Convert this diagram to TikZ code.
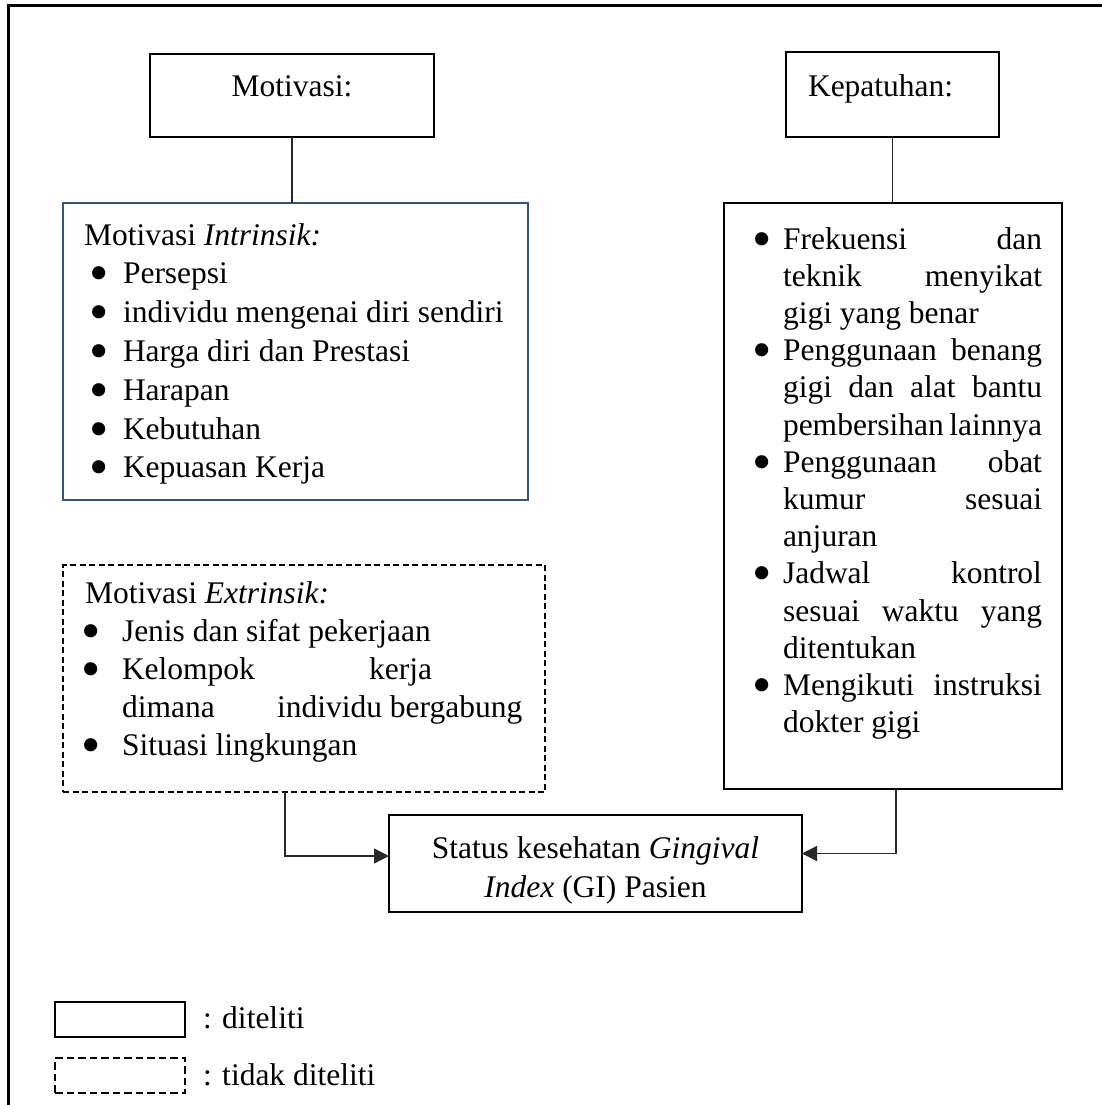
\documentclass[tikz,border=0pt]{standalone}
\usepackage{fontspec}
\setmainfont{Liberation Serif}
\usetikzlibrary{arrows.meta}
\definecolor{boxblue}{RGB}{56,84,116}
\definecolor{connc}{RGB}{40,40,40}
\newcommand{\bdot}{\smash{\raisebox{-8pt}{\scalebox{1.75}{•}}}}
\newcommand{\bl}[2]{\hspace*{#1}\makebox[0pt]{\bdot}\hspace*{#2}}
\newcommand{\jw}[1]{\makebox[259pt][s]{#1}}
\newcommand{\gp}{\ \hfill}
\newcommand{\ws}{\spaceskip=0.25em\relax}
\begin{document}
\begin{tikzpicture}[x=1pt,y=-1pt,
  boxs/.style={draw, line width=2.4pt, inner sep=0pt, outer sep=0pt, anchor=north west},
  txt/.style={inner sep=0pt, outer sep=0pt, font=\fontsize{31.5}{38.8}\selectfont},
  conn/.style={draw=connc, line width=1.3pt},
  arr/.style={conn, -{Triangle[length=15pt,width=15pt]}},
  dashbox/.style={boxs, dash pattern=on 6pt off 3.5pt}]
\useasboundingbox (0,0) rectangle (1101,1105);
% outer frame
\draw[line width=3pt] (8,1112) -- (8,6) -- (1112,6);

% boxes
\node[boxs, minimum width=284pt, minimum height=83pt] (mot) at (150,54) {};
\node[boxs, minimum width=213pt, minimum height=85pt] (kep) at (786,52) {};
\node[boxs, draw=boxblue, minimum width=465pt, minimum height=297pt] (intr) at (63,203) {};
\node[boxs, line width=2.8pt, minimum width=338pt, minimum height=586pt] (list) at (724,203) {};
\node[dashbox, minimum width=482pt, minimum height=227pt] (extr) at (63,565) {};
\node[boxs, minimum width=413pt, minimum height=97pt] (stat) at (389,815) {};
\node[boxs, minimum width=130pt, minimum height=35pt] (legA) at (55,1002) {};
\node[boxs, dash pattern=on 7.5pt off 4pt, minimum width=130pt, minimum height=35pt] (legB) at (55,1058) {};

% texts
\node[txt, anchor=base] (motT) at (292,97) {Motivasi:};
\node[txt, anchor=base west] (kepT) at (808,97) {Kepatuhan:};
\node[txt, anchor=base west, text width=440pt, align=left] (intrT) at (84,245) {\ws
Motivasi \textit{Intrinsik:}\\
\bl{15pt}{24pt}Persepsi\\
\bl{15pt}{24pt}individu mengenai diri sendiri\\
\bl{15pt}{24pt}Harga diri dan Prestasi\\
\bl{15pt}{24pt}Harapan\\
\bl{15pt}{24pt}Kebutuhan\\
\bl{15pt}{24pt}Kepuasan Kerja};
\node[txt, font=\fontsize{31.5}{38}\selectfont, anchor=base west, text width=455pt, align=left] (extrT) at (85,603) {\ws
Motivasi \textit{Extrinsik:}\\
\bl{6pt}{31pt}Jenis dan sifat pekerjaan\\
\bl{6pt}{31pt}\makebox[310pt][s]{Kelompok\hfill kerja}\\
\hspace*{37pt}\makebox[155pt][l]{dimana}individu bergabung\\
\bl{6pt}{31pt}Situasi lingkungan};
\node[txt, font=\fontsize{31.5}{37.2}\selectfont, anchor=base west, text width=305pt, align=left] (listT) at (750,249) {\ws
\bl{12pt}{21pt}\jw{Frekuensi\gp dan}\\
\hspace*{33pt}\jw{teknik\gp menyikat}\\
\hspace*{33pt}gigi yang benar\\
\bl{12pt}{21pt}\jw{Penggunaan\gp benang}\\
\hspace*{33pt}\jw{gigi\gp dan\gp alat\gp bantu}\\
\hspace*{33pt}\jw{pembersihan\hfill lainnya}\\
\bl{12pt}{21pt}\jw{Penggunaan\gp obat}\\
\hspace*{33pt}\jw{kumur\gp sesuai}\\
\hspace*{33pt}anjuran\\
\bl{12pt}{21pt}\jw{Jadwal\gp kontrol}\\
\hspace*{33pt}\jw{sesuai\gp waktu\gp yang}\\
\hspace*{33pt}ditentukan\\
\bl{12pt}{21pt}\jw{Mengikuti\gp instruksi}\\
\hspace*{33pt}dokter gigi};
\node[txt, font=\fontsize{31.5}{39}\selectfont, anchor=base, text width=413pt, align=center] (statT) at (595.5,858) {\ws
Status kesehatan \textit{Gingival}\\ \textit{Index} (GI) Pasien};
\node[txt, anchor=base west] (legAT) at (203,1028) {: diteliti};
\node[txt, anchor=base west] (legBT) at (203,1085) {: tidak diteliti};

% connectors
\draw[conn] (mot.south) -- (mot.south |- intr.north);
\draw[conn] (kep.south) -- (kep.south |- list.north);
\draw[arr] ([xshift=-19pt]extr.south) |- ([yshift=7.5pt]stat.west);
\draw[arr] ([xshift=3pt]list.south) |- ([yshift=10pt]stat.east);
\end{tikzpicture}
\end{document}
